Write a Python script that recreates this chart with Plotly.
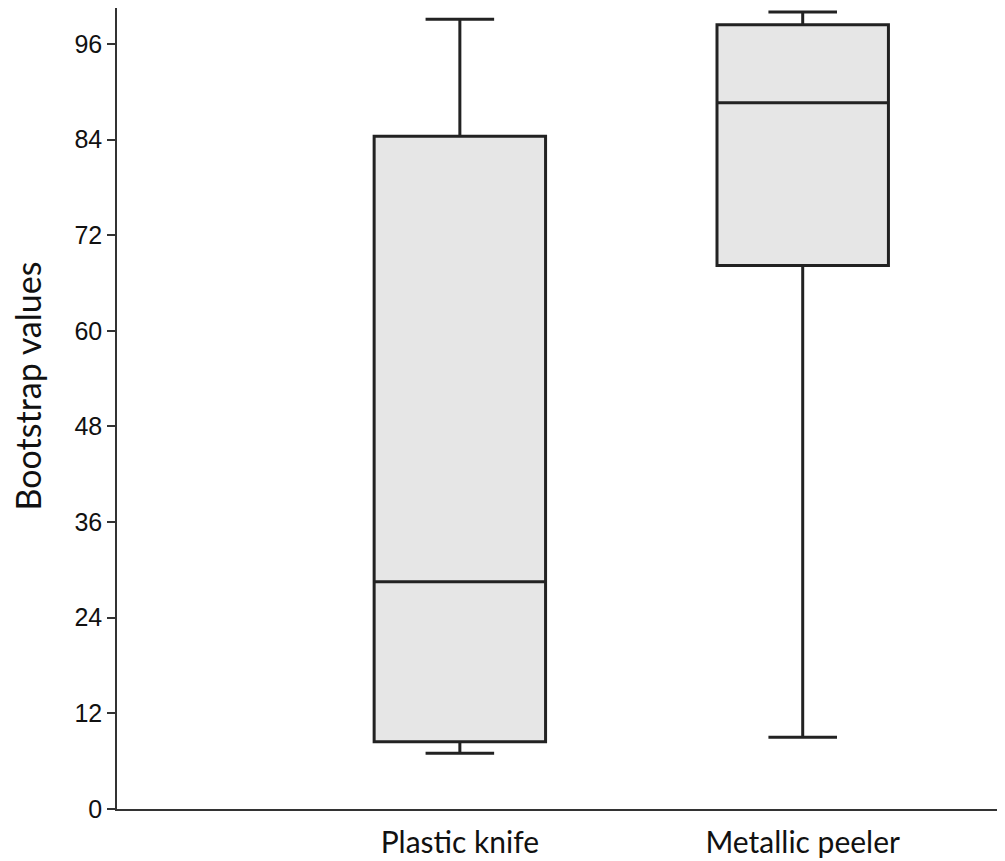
import plotly.graph_objects as go

categories = ["Plastic knife", "Metallic peeler"]
lower_whisker = [7.0, 9.0]
q1_values = [8.45, 68.2]
median_values = [28.5, 88.6]
q3_values = [84.4, 98.4]
upper_whisker = [99.1, 100.0]
y_ticks = [0, 12, 24, 36, 48, 60, 72, 84, 96]
y_title = "Bootstrap values"

fig = go.Figure()
fig.add_trace(go.Box(
    x=categories,
    q1=q1_values,
    median=median_values,
    q3=q3_values,
    lowerfence=lower_whisker,
    upperfence=upper_whisker,
    boxpoints=False,
    width=0.5,
    whiskerwidth=0.4,
    fillcolor="#e6e6e6",
    line=dict(color="#222222", width=3),
    showlegend=False,
    hoverinfo="skip",
))

# page body has an 8px default margin, so the figure is sized/offset to fit the window
fig.update_layout(
    width=997,
    height=853,
    margin=dict(l=109, r=0, t=0, b=52),
    plot_bgcolor="white",
    paper_bgcolor="white",
    xaxis=dict(
        range=[-1.0, 1.59],
        automargin=False,
        showline=True,
        linecolor="#333333",
        linewidth=1.5,
        ticks="",
        ticklabelstandoff=6,
        showgrid=False,
        zeroline=False,
        tickfont=dict(family="Lato", size=30, color="#111111"),
    ),
    yaxis=dict(
        range=[0, 100.5],
        automargin=False,
        tickvals=y_ticks,
        ticktext=[str(v) for v in y_ticks],
        showline=True,
        linecolor="#333333",
        linewidth=1.5,
        ticks="outside",
        ticklen=8,
        tickwidth=1.5,
        tickcolor="#333333",
        showgrid=False,
        zeroline=False,
        tickfont=dict(family="Liberation Sans", size=25, color="#111111"),
    ),
    annotations=[dict(
        text=y_title,
        textangle=-90,
        xref="paper", yref="paper",
        x=-0.101, y=0.528,
        xanchor="center", yanchor="middle",
        showarrow=False,
        font=dict(family="Lato", size=34, color="#111111"),
    )],
)

fig.write_html("out.html")
